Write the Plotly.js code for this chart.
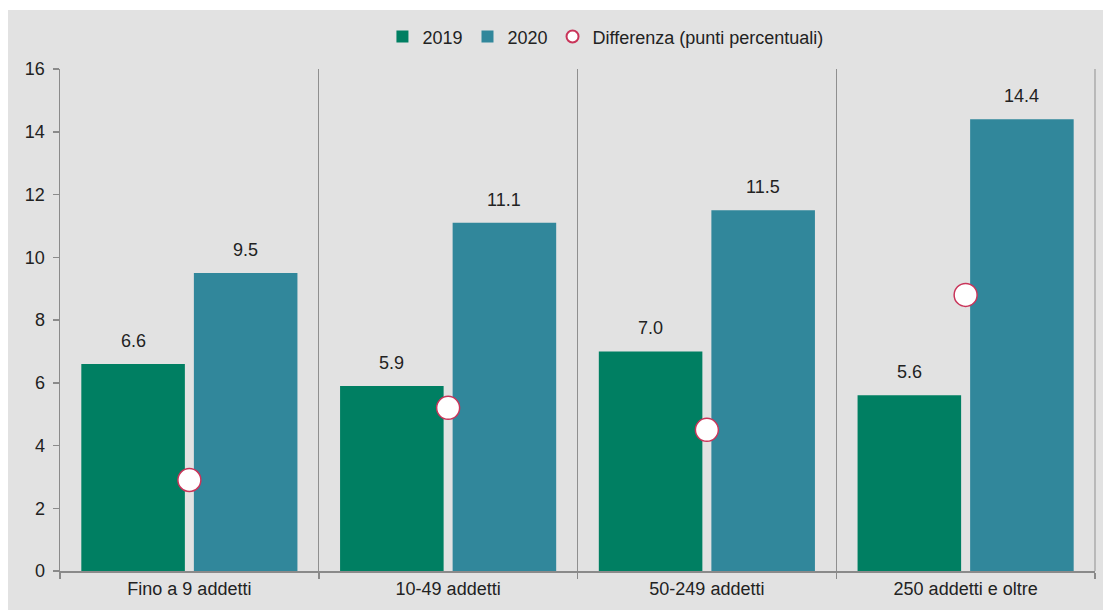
<!DOCTYPE html>
<html>
<head>
<meta charset="utf-8">
<script src="https://cdn.plot.ly/plotly-3.0.1.min.js"></script>
<style>
html, body { margin: 0; padding: 0; background: #ffffff; }
#wrap { position: absolute; left: 8px; top: 10px; width: 1095px; height: 600px; }
</style>
</head>
<body>
<div id="wrap"></div>
<script>
const categories = ["Fino a 9 addetti", "10-49 addetti", "50-249 addetti", "250 addetti e oltre"];
const values2019 = [6.6, 5.9, 7.0, 5.6];
const values2020 = [9.5, 11.1, 11.5, 14.4];
const differenza = [2.9, 5.2, 4.5, 8.8];
const yTicks = [0, 2, 4, 6, 8, 10, 12, 14, 16];

const green = "#007f62";
const blue = "#31879b";
const bargap = 0.13;
const slotOffset = (1 - bargap) / 4;

const font = { family: "Liberation Sans, Arial, sans-serif", size: 18, color: "#222222" };

const traces = [
  { type: "bar", name: "2019", x: categories, y: values2019, marker: { color: green }, hoverinfo: "y" },
  { type: "bar", name: "2020", x: categories, y: values2020, marker: { color: blue }, hoverinfo: "y" },
  { type: "scatter", mode: "markers", name: "Differenza (punti percentuali)", x: categories, y: differenza,
    marker: { symbol: "circle", size: 23, color: "#ffffff", line: { color: "#c9355a", width: 1.5 } } }
];

const annotations = [];
categories.forEach((c, i) => {
  annotations.push({ x: i - slotOffset, y: values2019[i], xref: "x", yref: "y", text: values2019[i].toFixed(1),
    showarrow: false, yanchor: "middle", yshift: 23, font: font });
  annotations.push({ x: i + slotOffset, y: values2020[i], xref: "x", yref: "y", text: values2020[i].toFixed(1),
    showarrow: false, yanchor: "middle", yshift: 23, font: font });
});

const layout = {
  width: 1095, height: 600,
  paper_bgcolor: "#e2e2e2", plot_bgcolor: "#e2e2e2",
  margin: { l: 52, r: 8, t: 59, b: 39 },
  font: font,
  barmode: "group", bargap: bargap, bargroupgap: 0.08,
  showlegend: true,
  legend: { orientation: "h", x: 0.527, xanchor: "center", y: 1.064, yanchor: "middle",
    bgcolor: "rgba(0,0,0,0)", font: font, itemsizing: "constant", traceorder: "normal" },
  xaxis: {
    type: "category", tickson: "boundaries", ticks: "outside", ticklen: 6, tickcolor: "#8a8a8a", tickwidth: 1.5,
    showline: true, linecolor: "#8a8a8a", linewidth: 2,
    showgrid: true, gridcolor: "#8f8f8f", gridwidth: 1,
    tickfont: font, range: [-0.5, 3.5], fixedrange: true
  },
  yaxis: {
    range: [0, 16], tickvals: yTicks, ticktext: yTicks.map(String), ticks: "outside", ticklen: 6,
    tickcolor: "#8a8a8a", tickwidth: 1.5, showline: true, linecolor: "#8a8a8a", linewidth: 1.5,
    showgrid: false, zeroline: false, tickfont: font, ticklabelstandoff: 4, fixedrange: true
  },
  shapes: [
    { type: "line", xref: "paper", yref: "paper", x0: 1, x1: 1, y0: 0, y1: 1,
      line: { color: "#8f8f8f", width: 1 }, layer: "below" }
  ],
  annotations: annotations
};

Plotly.newPlot("wrap", traces, layout, { displayModeBar: false, staticPlot: true });
</script>
</body>
</html>
